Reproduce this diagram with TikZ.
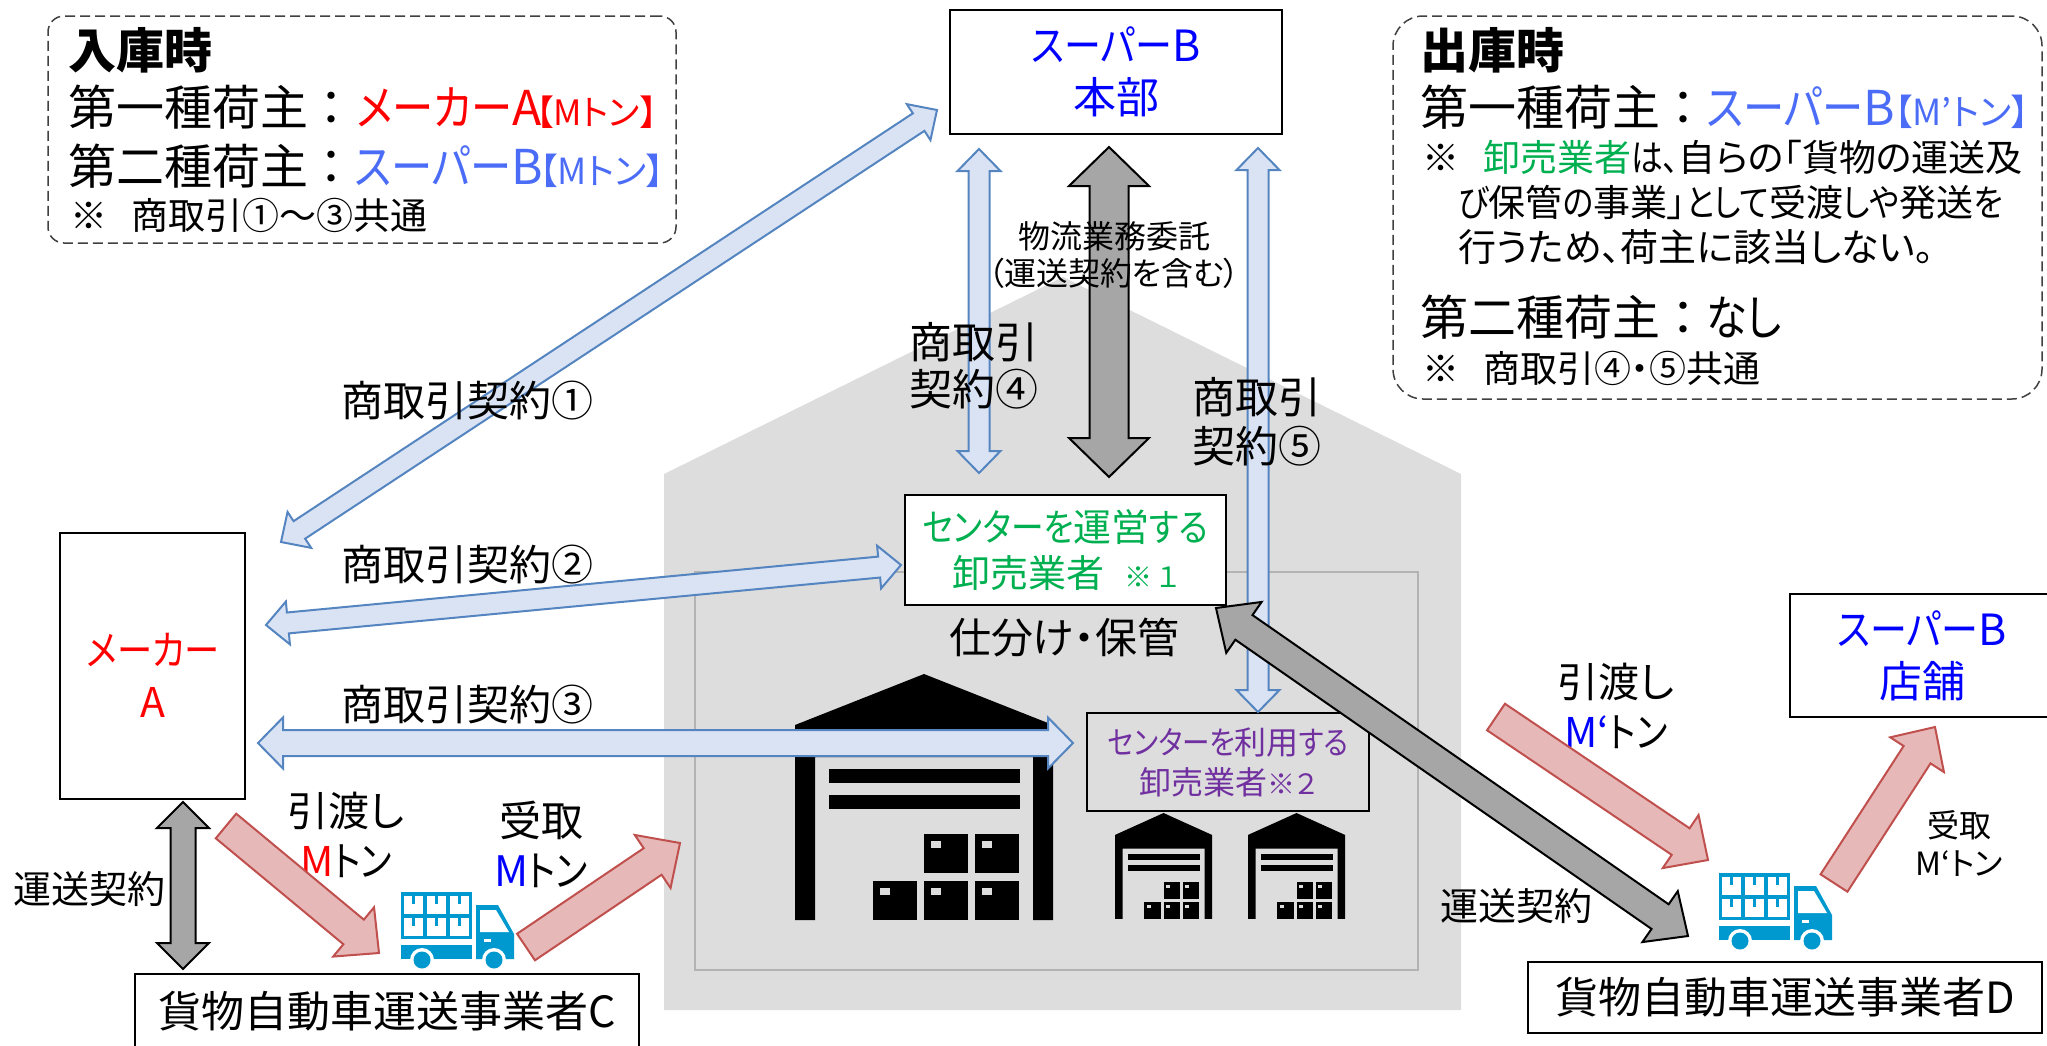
\documentclass[tikz,border=0pt]{standalone}
\usepackage{fontspec}
\setmainfont{Noto Sans CJK JP}[RawFeature={+palt}]
\newfontfamily\knf{Noto Sans CJK JP}[RawFeature={+palt},FakeStretch=0.86]
\usetikzlibrary{calc}

\definecolor{hsgray}{HTML}{DDDDDD}
\definecolor{rmgray}{HTML}{B3B3B3}
\definecolor{bkblue}{HTML}{5585C0}
\definecolor{bkfill}{HTML}{DAE3F3}
\definecolor{pkline}{HTML}{C0504D}
\definecolor{pkfill}{HTML}{E6B8B7}
\definecolor{gyfill}{HTML}{A6A6A6}
\definecolor{infblue}{HTML}{4A6CF7}
\definecolor{wgreen}{HTML}{00B050}
\definecolor{upurple}{HTML}{7030A0}
\definecolor{trblue}{HTML}{0099CF}
\newcommand{\fsz}[2]{\fontsize{#1}{#2}\selectfont}
\newcommand{\kn}[1]{{\knf #1}}

\begin{document}
\begin{tikzpicture} [
    x=1pt, y=-1pt,                  % Picture is laid out in reference pixels
    ]
% -------------------------------------------------
\tikzset{
  base/.style={inner sep=0pt, align=center},
  rect/.style={base, draw, line width=1.5pt},
  info/.style={draw=black!75, line width=1.5pt, dash pattern=on 10pt off 5pt, rounded corners=#1},
  txt/.style={base, font=\fsz{#1}{#1}},
  note/.style={base, anchor=west, font=\fsz{#1}{#1}},
  blue/.style={draw=bkblue, fill=bkfill, line width=2pt},
  pink/.style={draw=pkline, fill=pkfill, line width=2pt},
  grey/.style={draw=black, fill=gyfill, line width=2pt},
  twoway/.style n args={3}{to path={
    -- ($(\tikztostart)!#3!(\tikztotarget)!#2!90:(\tikztotarget)$)
    -- ($(\tikztostart)!#3!(\tikztotarget)!#1!90:(\tikztotarget)$)
    -- ($(\tikztotarget)!#3!(\tikztostart)!#1!-90:(\tikztostart)$)
    -- ($(\tikztotarget)!#3!(\tikztostart)!#2!-90:(\tikztostart)$)
    -- (\tikztotarget)
    -- ($(\tikztotarget)!#3!(\tikztostart)!#2!90:(\tikztostart)$)
    -- ($(\tikztotarget)!#3!(\tikztostart)!#1!90:(\tikztostart)$)
    -- ($(\tikztostart)!#3!(\tikztotarget)!#1!-90:(\tikztotarget)$)
    -- ($(\tikztostart)!#3!(\tikztotarget)!#2!-90:(\tikztotarget)$)
    -- cycle}},
  oneway/.style n args={3}{to path={
    -- ($(\tikztostart)!#1!90:(\tikztotarget)$)
    -- ($(\tikztotarget)!#3!(\tikztostart)!#1!-90:(\tikztostart)$)
    -- ($(\tikztotarget)!#3!(\tikztostart)!#2!-90:(\tikztostart)$)
    -- (\tikztotarget)
    -- ($(\tikztotarget)!#3!(\tikztostart)!#2!90:(\tikztostart)$)
    -- ($(\tikztotarget)!#3!(\tikztostart)!#1!90:(\tikztostart)$)
    -- ($(\tikztostart)!#1!-90:(\tikztotarget)$)
    -- cycle}},
  whouse/.pic={
    \fill (129,0) -- (258,51) -- (258,246) -- (238,246) -- (238,83) -- (20,83)
      -- (20,246) -- (0,246) -- (0,51) -- cycle;
    \fill (34,95) rectangle (225,109);
    \fill (34,121) rectangle (225,135);
    \foreach \bx/\by in {129/160,180/160,78/207,129/207,180/207} {
      \fill (\bx,\by) rectangle ++(44,39);
      \fill[hsgray] (\bx+7,\by+7) rectangle ++(10,7);
    }
  },
  truck/.pic={
    \fill[trblue] (0,0) rectangle (71,47);                           % cargo frame
    \foreach \cx in {3,26,49} {
      \foreach \cy in {4,26} {
        \fill[white] (\cx,\cy) rectangle ++(19,18);
        \fill[trblue] (\cx+8,\cy) rectangle ++(3,8);
      }
    }
    \fill[trblue] (0,53) rectangle (71,67);                          % bed
    \fill[trblue] (75,13) -- (97,13) -- (113,42) -- (113,67) -- (75,67) -- cycle;  % cab
    \fill[white] (79,18) -- (95,18) -- (108,40) -- (79,40) -- cycle; % window
    \fill[white] (83,47) rectangle ++(7,3);                          % handle
    \foreach \wx in {21,93} {
      \fill[white] (\wx,68) circle (12);
      \fill[trblue] (\wx,68) circle (8.5);
    }
  },
}
    \useasboundingbox (0,0) rectangle (2047,1045);

    \fill[hsgray] (664,1010) -- (664,474) -- (1063,277) -- (1461,474) -- (1461,1010) -- cycle;  % house
    \draw[rmgray, line width=2pt] (695,572) rectangle (1418,970);                               % room

    \pic (whb) at (795,674) {whouse};                               % big warehouse
    \pic[xscale=0.376, yscale=0.43] (wha) at (1115,813) {whouse};   % small warehouse 1
    \pic[xscale=0.376, yscale=0.43] (whc) at (1248,813) {whouse};   % small warehouse 2
    \pic (trc) at (401,892) {truck};                                % truck C
    \pic (trd) at (1719,873) {truck};                               % truck D

    \node [info=16pt, minimum width=628pt, minimum height=227pt] (inb) at (362,129.5) {};
    \node [info=30pt, minimum width=649pt, minimum height=383pt] (otb) at (1717.5,207.5) {};

    \node [note=48, font=\fsz{48}{48}\bfseries] (int) at (68,50) {入庫時};
    \node [note=48] (in1) at (68,107) {第一種荷主\hspace{11pt}：\hspace{14pt}{\color{red}\kn{メーカー}A\hspace{-6pt}{\fsz{35}{35}【Mトン】}}};
    \node [note=48] (in2) at (68,166) {第二種荷主\hspace{11pt}：\hspace{11pt}{\color{infblue}\kn{スーパー}B\hspace{-3pt}{\fsz{36}{36}【Mトン】}}};
    \node [note=37] (in3) at (70,215) {※\hspace{24pt}商取引①～③共通};

    \node [note=48, font=\fsz{48}{48}\bfseries] (ott) at (1420,50) {出庫時};
    \node [note=48] (ot1) at (1420,107) {第一種荷主\hspace{11pt}：\hspace{11pt}{\color{infblue}\kn{スーパー}B{\fsz{36}{36}【M'トン】}}};
    \node [note=37] (ot2) at (1422,157) {※\hspace{24pt}{\color{wgreen}卸売業者}\kn{は、}自らの「貨物の運送及};
    \node [note=37] (ot3) at (1458,202) {\kn{び}保管\kn{の}事業」\kn{として}受渡\kn{しや}発送\kn{を}};
    \node [note=38] (ot4) at (1458,247) {行うため、荷主に該当しない。};
    \node [note=48] (ot5) at (1420,317) {第二種荷主\hspace{11pt}：\hspace{11pt}\kn{なし}};
    \node [note=37] (ot6) at (1422,368) {※\hspace{24pt}商取引④・⑤共通};

    \coordinate (hqA) at (937,110);    \coordinate (mkA) at (281,542);
    \coordinate (whA) at (901,565);    \coordinate (mkB) at (266,625);
    \coordinate (usA) at (1073,743);   \coordinate (mkC) at (258,743);
    \coordinate (hqB) at (979,149);    \coordinate (whB) at (979,473);
    \coordinate (hqC) at (1258,148);   \coordinate (usB) at (1258,712);
    \coordinate (hqD) at (1109,147);   \coordinate (whD) at (1109,477);
    \coordinate (mkD) at (183,802);    \coordinate (crC) at (183,969);
    \coordinate (whE) at (1216,608);   \coordinate (crD) at (1688,936);
    \coordinate (pk1) at (226,826);    \coordinate (pk2) at (379,953);
    \coordinate (pk3) at (526,947);    \coordinate (pk4) at (680,843);
    \coordinate (pk5) at (1496,717);   \coordinate (pk6) at (1708,860);
    \coordinate (pk7) at (1834,883);   \coordinate (pk8) at (1935,727);

    \node [rect, fill=white, minimum width=321pt, minimum height=110pt, font=\fsz{38}{46}, text=wgreen] (whs) at (1065.5,550)
      {\kn{センターを}運営\kn{する}\\卸売業者\hspace{20pt}{\fsz{28}{46}※\hspace{5pt}１}};
    \node [rect, minimum width=282pt, minimum height=98pt, font=\fsz{32}{40}, text=upurple] (usr) at (1228,762)
      {\kn{センターを}利用\kn{する}\\卸売業者{\fsz{28}{40}※２}};

    \path [blue, twoway={10.5pt}{21.5pt}{22pt}] (hqA) to (mkA);
    \path [blue, twoway={10.5pt}{21.5pt}{22pt}] (whA) to (mkB);
    \path [blue, twoway={13pt}{25.5pt}{25pt}] (usA) to (mkC);
    \path [blue, twoway={10.5pt}{21.5pt}{22pt}] (hqB) to (whB);
    \path [blue, twoway={10.5pt}{21.5pt}{22pt}] (hqC) to (usB);
    \path [grey, twoway={19.5pt}{40pt}{39pt}] (hqD) to (whD);
    \path [grey, twoway={12.5pt}{26pt}{26pt}] (mkD) to (crC);
    \path [grey, twoway={15pt}{31pt}{34pt}] (whE) to (crD);

    \node [rect, fill=white, minimum width=332pt, minimum height=124pt, font=\fsz{43}{52}, text=blue] (hq) at (1116,72)
      {\kn{スーパー}B\\本部};
    \node [rect, fill=white, minimum width=185pt, minimum height=266pt] (mkr) at (152.5,666) {};
    \node [base, font=\fsz{41}{52}, text=red] (mkt) at (153,675) {\kn{メーカー}\\A};
    \node [rect, fill=white, minimum width=504pt, minimum height=74pt, font=\fsz{43}{43}] (crc) at (387,1011)
      {貨物自動車運送事業者C};
    \node [rect, fill=white, minimum width=514pt, minimum height=71pt, font=\fsz{43}{43}] (crd) at (1785,997.5)
      {貨物自動車運送事業者D};
    \node [rect, fill=white, minimum width=264pt, minimum height=123pt, font=\fsz{43}{52}, text=blue] (shp) at (1922,655.5)
      {\kn{スーパー}B\\店舗};

    \node [txt=42] (ct1) at (467,401) {商取引契約①};
    \node [txt=42] (ct2) at (467,565) {商取引契約②};
    \node [txt=42] (ct3) at (467,705) {商取引契約③};
    \node [base, anchor=west, font=\fsz{43}{47}, align=left] (ct4) at (909,366) {商取引\\契約④};
    \node [base, anchor=west, font=\fsz{43}{49}, align=left] (ct5) at (1192,422) {商取引\\契約⑤};
    \node [base, font=\fsz{32}{37}] (lgc) at (1114,255) {物流業務委託\\（運送契約を含む）};
    \node [txt=42] (sto) at (1064,638) {仕分け・保管};
    \node [txt=38] (tr1) at (89,889) {運送契約};
    \node [txt=38] (tr2) at (1516,906) {運送契約};

    \node [base, font=\fsz{41}{50}] (hnc) at (346,835) {引渡し\\{\color{red}M}\kn{トン}};
    \node [base, font=\fsz{42}{50}] (rcc) at (541,844) {受取\\{\color{blue}M}\kn{トン}};
    \node [base, font=\fsz{41}{50}] (hnd) at (1616,706) {引渡し\\{\color{blue}M‘}\kn{トン}};
    \node [base, font=\fsz{32}{38}] (rcd) at (1959,843) {受取\\M‘トン};

    \path [pink, oneway={16pt}{32pt}{33pt}] (pk1) to (pk2);
    \path [pink, oneway={16pt}{32pt}{33pt}] (pk3) to (pk4);
    \path [pink, oneway={16pt}{32pt}{33pt}] (pk5) to (pk6);
    \path [pink, oneway={16pt}{32pt}{33pt}] (pk7) to (pk8);

\end{tikzpicture}
\end{document}
